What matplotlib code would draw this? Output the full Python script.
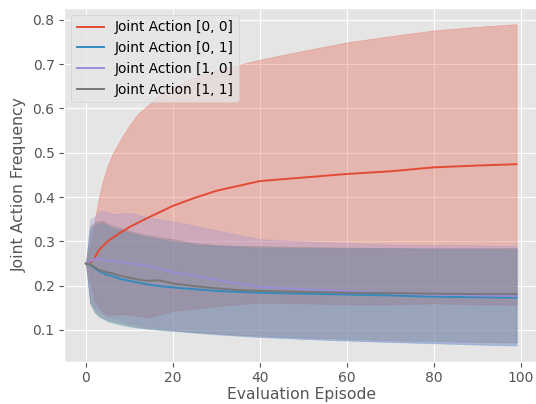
import matplotlib
matplotlib.use("Agg")
import matplotlib.pyplot as plt
import numpy as np

plt.style.use("ggplot")
plt.rcParams["font.size"] = 9.4

# 评估回合（读图取点）
episodes = [0, 1, 2, 3, 4, 5, 6, 8, 10, 12, 14, 17, 20, 25, 30, 35, 40, 50, 60, 70, 80, 90, 99]

# ── Joint Action [0, 0] ──────────────────────────────
mean_00 = [0.25, 0.252, 0.262, 0.28, 0.29, 0.30, 0.307, 0.32, 0.332, 0.342, 0.352, 0.366, 0.38,
           0.398, 0.414, 0.425, 0.436, 0.444, 0.452, 0.458, 0.467, 0.471, 0.474]
upper_00 = [0.25, 0.29, 0.345, 0.40, 0.44, 0.47, 0.495, 0.53, 0.562, 0.588, 0.605, 0.63, 0.648,
            0.67, 0.685, 0.698, 0.71, 0.73, 0.749, 0.763, 0.776, 0.784, 0.79]
lower_00 = [0.25, 0.21, 0.165, 0.15, 0.14, 0.135, 0.135, 0.135, 0.135, 0.132, 0.128, 0.135, 0.143,
            0.148, 0.154, 0.158, 0.162, 0.16, 0.158, 0.158, 0.16, 0.158, 0.157]

# ── Joint Action [0, 1] ──────────────────────────────
mean_01 = [0.25, 0.247, 0.24, 0.233, 0.228, 0.224, 0.222, 0.215, 0.211, 0.207, 0.203, 0.199, 0.196,
           0.192, 0.188, 0.186, 0.184, 0.182, 0.18, 0.178, 0.175, 0.174, 0.173]
upper_01 = [0.25, 0.33, 0.335, 0.34, 0.342, 0.335, 0.33, 0.325, 0.32, 0.315, 0.31, 0.305, 0.30,
            0.293, 0.29, 0.288, 0.286, 0.285, 0.284, 0.284, 0.283, 0.283, 0.282]
lower_01 = [0.25, 0.16, 0.14, 0.13, 0.125, 0.12, 0.117, 0.112, 0.108, 0.105, 0.103, 0.10, 0.098,
            0.094, 0.09, 0.087, 0.084, 0.08, 0.076, 0.073, 0.07, 0.067, 0.065]

# ── Joint Action [1, 0] ──────────────────────────────
mean_10 = [0.25, 0.256, 0.26, 0.26, 0.258, 0.257, 0.256, 0.253, 0.25, 0.248, 0.245, 0.238, 0.23,
           0.222, 0.213, 0.205, 0.197, 0.192, 0.188, 0.183, 0.18, 0.178, 0.177]
upper_10 = [0.25, 0.35, 0.355, 0.368, 0.368, 0.365, 0.362, 0.363, 0.364, 0.36, 0.354, 0.35, 0.345,
            0.335, 0.325, 0.315, 0.305, 0.30, 0.296, 0.293, 0.292, 0.291, 0.29]
lower_10 = [0.25, 0.165, 0.15, 0.14, 0.135, 0.13, 0.128, 0.122, 0.115, 0.112, 0.108, 0.104, 0.10,
            0.096, 0.092, 0.088, 0.085, 0.08, 0.077, 0.073, 0.071, 0.068, 0.066]

# ── Joint Action [1, 1] ──────────────────────────────
mean_11 = [0.25, 0.248, 0.242, 0.235, 0.233, 0.23, 0.228, 0.222, 0.218, 0.214, 0.211, 0.212, 0.205,
           0.199, 0.194, 0.19, 0.188, 0.186, 0.184, 0.183, 0.182, 0.181, 0.181]
upper_11 = [0.25, 0.335, 0.342, 0.346, 0.346, 0.34, 0.335, 0.33, 0.324, 0.318, 0.314, 0.309, 0.305,
            0.296, 0.292, 0.29, 0.289, 0.287, 0.286, 0.285, 0.285, 0.285, 0.285]
lower_11 = [0.25, 0.16, 0.142, 0.132, 0.127, 0.122, 0.12, 0.115, 0.11, 0.107, 0.104, 0.101, 0.099,
            0.095, 0.092, 0.089, 0.087, 0.083, 0.08, 0.077, 0.075, 0.073, 0.072]

labels = ["Joint Action [0, 0]", "Joint Action [0, 1]", "Joint Action [1, 0]", "Joint Action [1, 1]"]
means = [mean_00, mean_01, mean_10, mean_11]
uppers = [upper_00, upper_01, upper_10, upper_11]
lowers = [lower_00, lower_01, lower_10, lower_11]

fig = plt.figure(figsize=(5.36, 4.04), dpi=100)
ax = fig.add_axes([0.12, 0.105, 0.884, 0.875])

colors = plt.rcParams["axes.prop_cycle"].by_key()["color"]
for i in range(4):
    c = colors[i]
    ax.plot(episodes, means[i], color=c, label=labels[i], linewidth=1.4)
    ax.fill_between(episodes, lowers[i], uppers[i], color=c, alpha=0.3)

ax.set_xlabel("Evaluation Episode", labelpad=2)
ax.set_ylabel("Joint Action Frequency")
ax.set_xticks([0, 20, 40, 60, 80, 100])
ax.tick_params(axis="both", labelsize=10)
ax.tick_params(axis="x", pad=3)
ax.legend(loc="upper left", fontsize=9.8)

fig.savefig("out.png", dpi=100)
